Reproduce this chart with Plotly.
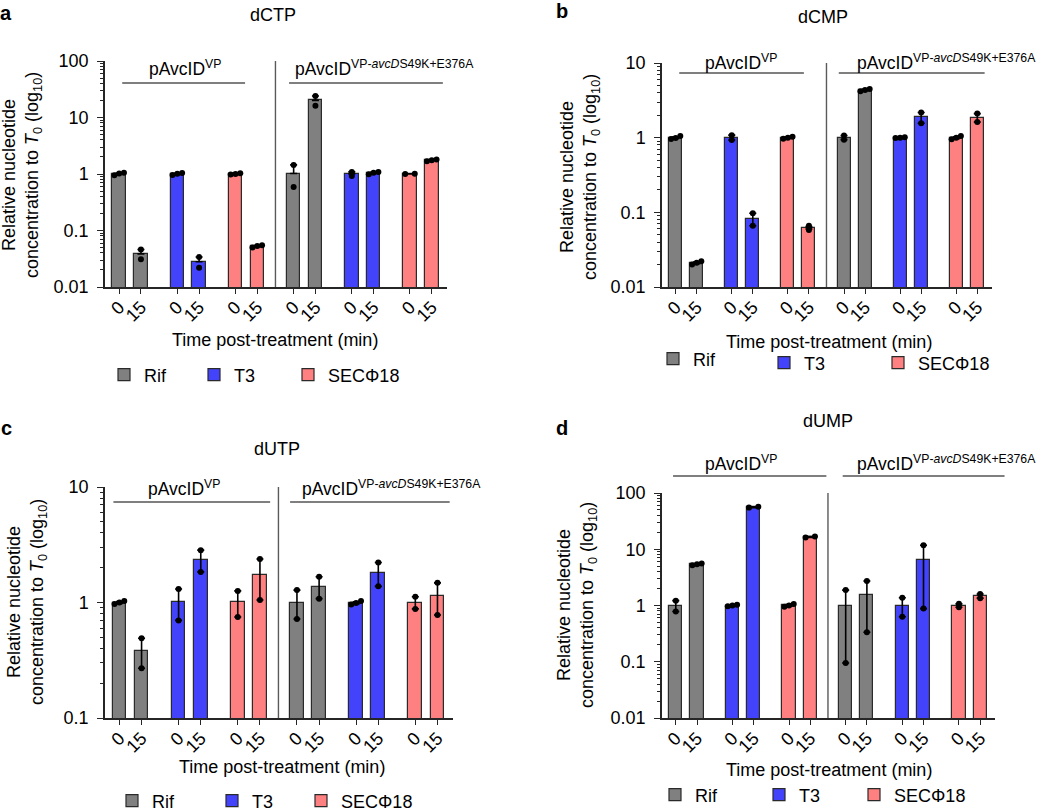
import numpy as np
import plotly.graph_objects as go

W, H = 1050, 811
FONT = "Liberation Sans, Arial, Helvetica, sans-serif"

# ---------------- data ----------------
treatments = ["Rif", "T3", "SECΦ18"]
time_labels = ["0", "15"]
strain_labels = ["pAvcID<sup>VP</sup>", "pAvcID<sup>VP-<i>avcD</i>S49K+E376A</sup>"]
panel_titles = ["dCTP", "dCMP", "dUTP", "dUMP"]
panel_letters = ["a", "b", "c", "d"]
x_title = "Time post-treatment (min)"
y_title = "Relative nucleotide<br>concentration to <i>T</i><sub>0</sub> (log<sub>10</sub>)"

# replicate values per bar, order: VP(Rif0,Rif15,T3 0,T3 15,SEC0,SEC15), mutant(same)
dctp_reps = [[0.95, 1.02, 1.05], [0.046, 0.031], [0.96, 1.01, 1.04], [0.034, 0.022],
             [0.98, 1.00, 1.03], [0.050, 0.053, 0.055],
             [1.45, 0.59], [24.0, 16.2], [1.09, 0.92], [0.99, 1.05, 1.08],
             [1.00, 1.01], [1.68, 1.76, 1.80]]
dcmp_reps = [[0.96, 0.99, 1.05], [0.0200, 0.0212, 0.0222], [1.08, 0.93], [0.097, 0.066],
             [0.97, 1.00, 1.03], [0.058, 0.062, 0.066],
             [1.07, 0.94], [4.20, 4.35, 4.50], [0.99, 1.00, 1.01], [2.17, 1.56],
             [0.95, 1.00, 1.05], [2.10, 1.62]]
dutp_reps = [[0.97, 1.00, 1.03], [0.49, 0.27], [1.31, 0.70], [2.84, 1.84],
             [1.26, 0.75], [2.38, 1.05],
             [1.28, 0.72], [1.67, 1.08], [0.96, 0.99, 1.03], [2.22, 1.38],
             [1.12, 0.88], [1.48, 0.78]]
dump_reps = [[1.22, 0.78], [5.2, 5.4, 5.6], [0.97, 1.00, 1.03], [55.0, 57.0],
             [0.95, 1.00, 1.06], [16.2, 16.8],
             [1.88, 0.095], [2.72, 0.335], [1.37, 0.63], [11.8, 0.88],
             [1.07, 0.93], [1.60, 1.35]]

y_ticks_4dec = [0.01, 0.1, 1, 10, 100]
y_ticktext_4dec = ["0.01", "0.1", "1", "10", "100"]
y_ticks_3dec = [0.01, 0.1, 1, 10]
y_ticktext_3dec = ["0.01", "0.1", "1", "10"]
y_ticks_2dec = [0.1, 1, 10]
y_ticktext_2dec = ["0.1", "1", "10"]

# ---------------- style / layout ----------------
colors = ["#808080", "#4343FB", "#FF8080"]
PAIR = 2.67
BAR_W = 0.62
XRANGE = [-0.65, 15.05]
xpos = [(i // 2) * PAIR + (i % 2) for i in range(12)]


def px(x):
    return x / W


def py(y):
    return 1 - y / H


panels = [
    dict(reps=dctp_reps, yr=[-2, 2], tv=y_ticks_4dec, tt=y_ticktext_4dec, two_sided=False,
         dom_x=(105, 447), dom_y=(61, 287), gl_y=0.903, vp=(0.14, 5.78), mt=(7.8, 14.86),
         lab_vp=(185, 68), lab_mt=(293, 68), title=(273, 15), letter=(6, 13),
         ytitle=(22, 175), xtitle=(275, 340),
         keys=[(128, 375), (218, 375), (312, 375)]),
    dict(reps=dcmp_reps, yr=[-2, 1], tv=y_ticks_3dec, tt=y_ticktext_3dec, two_sided=True,
         dom_x=(662, 992), dom_y=(63, 287), gl_y=0.955, vp=(0.17, 6.1), mt=(7.76, 14.7),
         lab_vp=(741, 62), lab_mt=(855, 62), title=(823, 17), letter=(562, 11),
         ytitle=(580, 177), xtitle=(829, 342),
         keys=[(677, 359), (788, 363), (902, 363)]),
    dict(reps=dutp_reps, yr=[-1, 1], tv=y_ticks_2dec, tt=y_ticktext_2dec, two_sided=True,
         dom_x=(105, 453), dom_y=(487, 718), gl_y=0.935, vp=(-0.27, 6.8), mt=(7.7, 14.9),
         lab_vp=(184, 488), lab_mt=(300, 488), title=(277, 449), letter=(6, 428),
         ytitle=(27, 602), xtitle=(282, 767),
         keys=[(136, 801), (236, 801), (325, 801)]),
    dict(reps=dump_reps, yr=[-2, 2], tv=y_ticks_4dec, tt=y_ticktext_4dec, two_sided=True,
         dom_x=(662, 995), dom_y=(493, 718), gl_y=1.076, vp=(-0.13, 7.1), mt=(7.87, 15.5),
         lab_vp=(741, 463), lab_mt=(855, 463), title=(828, 421), letter=(562, 428),
         ytitle=(577, 605), xtitle=(829, 770),
         keys=[(679, 795), (783, 795), (878, 795)]),
]

fig = go.Figure()
layout = dict(width=W, height=H, margin=dict(l=0, r=0, t=0, b=0, autoexpand=False),
              paper_bgcolor="white", plot_bgcolor="white",
              font=dict(family=FONT, size=18, color="black"),
              bargap=0, showlegend=True)
shapes, annotations = [], []

AX = "#262626"


def dfrac(xv):
    return (xv - XRANGE[0]) / (XRANGE[1] - XRANGE[0])


leg_n = 0
for k, P in enumerate(panels, start=1):
    sfx = "" if k == 1 else str(k)
    xa, ya = "x" + sfx, "y" + sfx
    reps = P["reps"]
    means = [float(np.mean(r)) for r in reps]
    sems = [float(np.std(r, ddof=1) / np.sqrt(len(r))) for r in reps]

    for t, name in enumerate(treatments):
        leg_n += 1
        leg = "legend" if leg_n == 1 else f"legend{leg_n}"
        idx = [i for i in range(12) if (i % 6) // 2 == t]
        fig.add_trace(go.Bar(
            x=[xpos[i] for i in idx], y=[means[i] for i in idx], width=BAR_W,
            marker=dict(color=colors[t], line=dict(color="#2a2a2a", width=1.2)),
            error_y=dict(type="data", symmetric=False,
                         array=[sems[i] for i in idx],
                         arrayminus=[sems[i] if P["two_sided"] else 0 for i in idx],
                         color="black", thickness=1.6, width=3.5),
            name=name, legend=leg, xaxis=xa, yaxis=ya, showlegend=True,
            hoverinfo="skip"))
        kx, ky = P["keys"][t]
        layout[leg] = dict(orientation="h", x=px(kx - 24), y=py(ky),
                           xanchor="left", yanchor="middle",
                           font=dict(size=18, color="black"), bgcolor="rgba(0,0,0,0)",
                           itemclick=False, itemdoubleclick=False)

    # replicate dots
    dx, dy = [], []
    for i, r in enumerate(reps):
        n = len(r)
        close = max(r) / min(r) < 1.12
        offs = np.linspace(-0.22, 0.22, n) if close else np.zeros(n)
        for o, v in zip(offs, sorted(r)):
            dx.append(xpos[i] + o)
            dy.append(v)
    fig.add_trace(go.Scatter(x=dx, y=dy, mode="markers",
                             marker=dict(color="black", size=6),
                             showlegend=False, xaxis=xa, yaxis=ya, hoverinfo="skip"))

    minor_vals = [m * 10.0 ** e for e in range(P["yr"][0], P["yr"][1]) for m in range(2, 10)]

    layout["xaxis" + sfx] = dict(
        domain=[px(P["dom_x"][0]), px(P["dom_x"][1])], anchor=ya, range=XRANGE,
        tickmode="array", tickvals=xpos, ticktext=time_labels * 6, tickangle=-45,
        ticks="outside", ticklen=5, tickwidth=1.2, tickcolor=AX, ticklabelstandoff=-4,
        showline=True, linecolor=AX, linewidth=1.5, showgrid=False, zeroline=False,
        tickfont=dict(size=18, color="black"), fixedrange=True, automargin=False)
    layout["yaxis" + sfx] = dict(
        domain=[py(P["dom_y"][1]), py(P["dom_y"][0])], anchor=xa, type="log",
        range=P["yr"], tickmode="array", tickvals=P["tv"], ticktext=P["tt"],
        ticks="outside", ticklen=6, tickwidth=1.2, tickcolor=AX, ticklabelstandoff=5,
        minor=dict(ticks="outside", ticklen=3, tickwidth=1, tickcolor=AX, tickvals=minor_vals),
        showline=True, linecolor=AX, linewidth=1.5, showgrid=False, zeroline=False,
        tickfont=dict(size=18, color="black"), fixedrange=True, automargin=False)

    # separator between strains
    sep = (xpos[5] + xpos[6]) / 2
    shapes.append(dict(type="line", xref=xa + " domain", yref=ya + " domain",
                       x0=dfrac(sep), x1=dfrac(sep), y0=0, y1=1,
                       line=dict(color="#5a5a5a", width=1.4)))
    # group lines
    for (a, b) in (P["vp"], P["mt"]):
        shapes.append(dict(type="line", xref=xa + " domain", yref=ya + " domain",
                           x0=dfrac(a), x1=dfrac(b), y0=P["gl_y"], y1=P["gl_y"],
                           line=dict(color="#555555", width=1.5)))

    annotations += [
        dict(text=strain_labels[0], x=px(P["lab_vp"][0]), y=py(P["lab_vp"][1]),
             xref="paper", yref="paper", xanchor="center", yanchor="middle",
             showarrow=False, font=dict(size=17.5)),
        dict(text=strain_labels[1], x=px(P["lab_mt"][0]), y=py(P["lab_mt"][1]),
             xref="paper", yref="paper", xanchor="left", yanchor="middle",
             showarrow=False, font=dict(size=17.5)),
        dict(text=panel_titles[k - 1], x=px(P["title"][0]), y=py(P["title"][1]),
             xref="paper", yref="paper", xanchor="center", yanchor="middle",
             showarrow=False, font=dict(size=18)),
        dict(text="<b>" + panel_letters[k - 1] + "</b>", x=px(P["letter"][0]),
             y=py(P["letter"][1]), xref="paper", yref="paper", xanchor="center",
             yanchor="middle", showarrow=False, font=dict(size=20)),
        dict(text=y_title, x=px(P["ytitle"][0]), y=py(P["ytitle"][1]), textangle=-90,
             xref="paper", yref="paper", xanchor="center", yanchor="middle",
             showarrow=False, font=dict(size=18)),
        dict(text=x_title, x=px(P["xtitle"][0]), y=py(P["xtitle"][1]),
             xref="paper", yref="paper", xanchor="center", yanchor="middle",
             showarrow=False, font=dict(size=18)),
    ]

layout["shapes"] = shapes
layout["annotations"] = annotations
fig.update_layout(**layout)
fig.write_html("out.html", config={"displayModeBar": False},
               post_script="document.body.style.margin='0px';")
